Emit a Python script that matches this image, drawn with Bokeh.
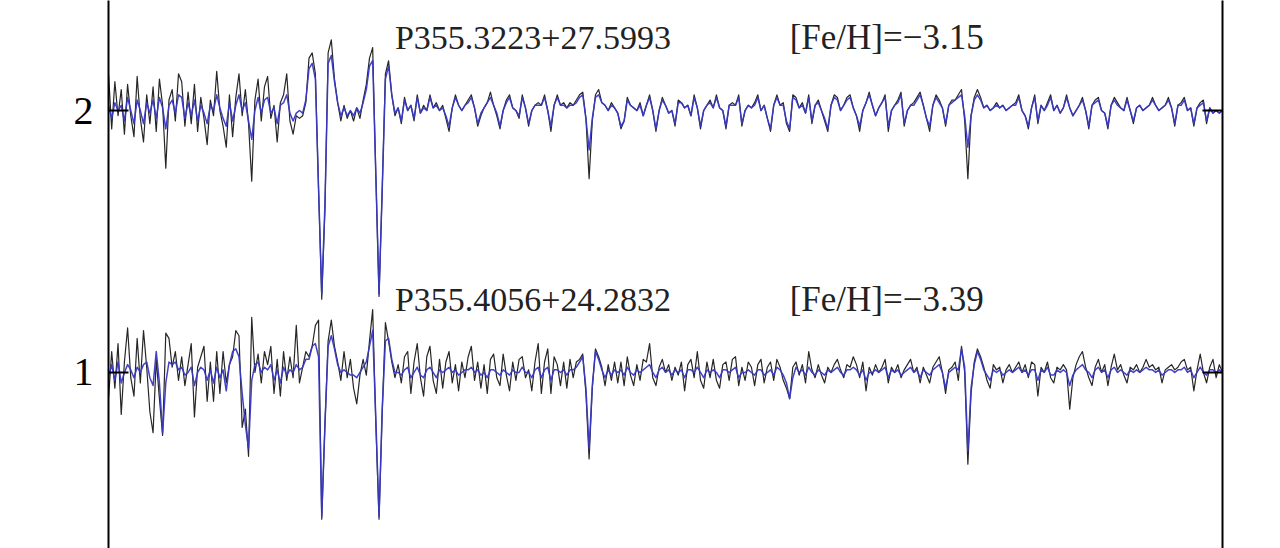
import numpy as np
from bokeh.plotting import figure
from bokeh.models import Range1d, LinearAxis, FixedTicker, Label
from bokeh.embed import file_html
from bokeh.resources import INLINE

# wavelength grid (Angstrom): 3800 .. 4500, step 2
WL_START = 3800.0
WL_STEP = 2.0

# Star 2 (P355.3223+27.5993): normalised flux deviation in percent, observed (black)
obs2_pct = [
    14, -7, 11, -2, 8, -9, 10, -2, -10, 13,
    -3, -12, 6, -5, 9, -8, 12, 2, -22, 4,
    8, -4, 14, 11, -6, 7, -5, 10, -8, 5,
    -3, -13, 4, -2, 15, 0, -6, -14, 6, -10,
    5, 14, -2, 8, -5, -27, 4, 12, -4, 9,
    13, -3, 2, -12, 3, 6, 14, -4, -9, -2,
    -3, -2, 3, 20, 22, 14, -30, -72, -38, 22,
    27, 12, 3, -4, 2, -3, 0, -4, 1, -3,
    4, 10, 20, 24, -25, -71, -30, 14, 19, 6,
    -2, 1, -5, 5, 0, 2, -4, 6, -1, 2,
    0, 6, 1, 3, 0, 2, -3, -8, 1, 6,
    2, 0, 2, 4, 6, 1, -6, -2, 1, 3,
    7, 2, -2, -7, 0, 4, 6, 1, 0, -3,
    6, 1, -6, 0, 2, 3, 2, 6, 0, -8,
    2, 6, 2, 3, 1, 3, 2, 4, 6, 7,
    -3, -26, -4, 6, 8, 3, 2, 0, 3, 1,
    -1, -7, -4, 5, 2, 1, 0, 3, -2, 2,
    6, 0, -8, 0, 5, 2, -1, 0, -6, 4,
    3, 1, 2, -2, 6, 1, -7, 0, 2, 4,
    1, 6, 1, 0, -7, 2, 3, 2, 6, -6,
    0, 2, 1, 3, 6, 0, 2, -3, -8, 2,
    6, 2, 3, -5, -8, 6, 5, 1, 3, -1,
    6, -5, 2, 4, 0, -4, -8, 2, 6, 5,
    0, 2, 5, 6, 1, -2, -8, 0, 3, 7,
    2, -2, 1, 3, 6, -8, 0, 2, 4, 7,
    -6, 0, 2, 3, 5, 7, 2, -3, -8, 2,
    6, 4, 1, -6, 2, 4, 4, 6, 8, -4,
    -26, -2, 5, 8, 5, 1, 2, 0, 1, 3,
    1, 2, 0, 1, 2, 3, 6, 0, -2, -7,
    1, 6, -5, 2, 0, 3, 6, 0, 2, -1,
    1, 6, 1, -2, 0, 2, 5, 0, -7, 2,
    4, 5, 0, -1, -7, 2, 5, 3, 1, 0,
    5, 0, -5, 1, 2, 0, 1, 2, 5, 2,
    0, 1, 2, 5, 1, -6, 2, 3, 5, 0,
    1, -6, 1, 3, 4, -5, 1, -1, 0, -1,
    0,
]

# Star 2 synthetic / model (blue)
mod2_pct = [
    2, -3, 3, 0, 2, -4, 5, 0, -5, 4,
    0, -5, 3, -1, 4, -3, 5, 1, -7, 2,
    4, -1, 6, 5, -3, 3, -2, 4, -4, 2,
    -1, -5, 2, 0, 6, 1, -3, -6, 3, -4,
    2, 6, 0, 3, -4, -11, 0, 5, -1, 4,
    5, -1, 1, -5, 2, 3, 6, -1, -4, -1,
    0, -1, 4, 16, 18, 12, -30, -70, -36, 18,
    21, 11, 3, -2, 1, -2, 0, -2, 1, -1,
    3, 8, 17, 19, -25, -70, -30, 12, 17, 6,
    -1, 1, -4, 4, 0, 2, -3, 5, -1, 1,
    0, 5, 1, 2, 0, 1, -2, -6, 1, 5,
    2, 0, 2, 3, 5, 1, -5, -1, 1, 3,
    5, 2, -1, -6, 0, 3, 5, 1, 0, -2,
    5, 1, -5, 0, 2, 2, 2, 5, 0, -6,
    2, 5, 2, 2, 1, 2, 2, 3, 5, 6,
    -3, -15, -3, 5, 6, 3, 2, 0, 2, 1,
    -1, -6, -4, 4, 2, 1, 0, 2, -2, 2,
    5, 0, -7, 0, 4, 2, -1, 0, -5, 3,
    3, 1, 2, -2, 5, 1, -6, 0, 2, 3,
    1, 5, 1, 0, -6, 2, 2, 2, 5, -5,
    0, 2, 1, 2, 5, 0, 2, -3, -7, 2,
    5, 2, 2, -4, -7, 5, 4, 1, 2, -1,
    5, -4, 2, 3, 0, -3, -7, 2, 5, 4,
    0, 2, 4, 5, 1, -2, -6, 0, 3, 6,
    2, -2, 1, 3, 5, -6, 0, 2, 3, 6,
    -5, 0, 2, 2, 4, 6, 2, -3, -6, 2,
    5, 3, 1, -5, 2, 3, 4, 5, 6, -2,
    -14, -2, 4, 6, 4, 1, 2, 0, 1, 2,
    1, 2, 0, 1, 2, 2, 5, 0, -2, -6,
    1, 5, -4, 2, 0, 2, 5, 0, 2, -1,
    1, 5, 1, -2, 0, 2, 4, 0, -6, 2,
    3, 4, 0, -1, -6, 2, 4, 2, 1, 0,
    4, 0, -4, 1, 2, 0, 1, 2, 4, 2,
    0, 1, 2, 4, 1, -5, 2, 2, 4, 0,
    1, -5, 1, 2, 3, -4, 1, -1, 0, -1,
    0,
]

# Star 1 (P355.4056+24.2832): observed (black)
obs1_pct = [
    -10, 8, -6, 11, -16, 4, 17, -2, -9, 13,
    -4, 16, 2, -15, -23, 5, -10, -24, 15, 13,
    2, 8, -3, 6, -5, 3, 11, -17, 2, 6,
    10, -11, 4, -11, 8, -8, 8, -4, 3, 6,
    16, 14, -21, -14, -32, 21, 0, 7, -4, 8,
    3, 10, -8, 5, -9, 8, -3, 6, -2, 18,
    -4, 2, 8, 6, 10, 18, 20, -56, -20, 12,
    20, 10, 4, -3, 8, -2, 5, -6, -12, -1,
    5, -1, 12, 24, -20, -56, -15, 19, 12, 4,
    -2, 3, -4, 6, 8, -8, 4, 11, -2, -9,
    6, 10, -3, -8, 5, -6, 4, 8, -4, 3,
    -7, 4, -2, 6, 10, -3, 4, -6, 3, -8,
    5, 7, -2, -5, 7, -1, -7, 4, -3, 5,
    6, -2, 1, -7, 4, 11, -8, 4, 9, -8,
    6, 3, -5, 4, -6, 5, -2, 4, 5, 7,
    -8, -33, -6, 9, 6, 2, -5, 3, -3, 4,
    -4, 4, -5, 6, -1, -5, 3, -3, 5, 4,
    11, -2, -5, 2, 5, 0, 3, -3, 2, -1,
    4, -7, 3, 5, -2, 8, -3, -6, 4, -2,
    5, -3, -6, 3, 4, -3, 5, 6, -5, 2,
    -3, 4, 2, -5, 3, 5, -4, 2, 4, -3,
    5, 2, -3, -6, -10, 2, 4, -1, 3, -4,
    8, 1, -2, 3, -1, -4, 2, 0, 3, 5,
    1, -2, 3, 2, 6, 3, -2, 4, -7, 2,
    -1, 3, 0, 2, 5, -4, 2, 0, 3, -2,
    1, 3, 5, 0, 2, -4, 2, -1, -4, 2,
    4, 6, 0, -8, 1, 2, 4, -3, 10, 0,
    -35, -8, 4, 9, 6, 2, -3, -6, 3, 1,
    2, -4, 1, 3, 0, 2, 4, 0, 3, -2,
    4, 3, -9, 2, 0, 4, -2, -4, 2, 1,
    3, 1, -14, -2, 3, 6, 8, 2, -2, -5,
    2, 5, 0, 3, -5, 2, 7, 1, 3, -1,
    -4, 2, 1, 3, 0, 2, 5, 2, 3, 1,
    2, -4, 1, 2, 3, 1, 2, 4, 5, 1,
    2, -7, 1, 7, 0, -4, 2, 5, -2, 3,
    0,
]

# Star 1 model (blue)
mod1_pct = [
    -2, 3, -3, 4, -4, 0, 3, 1, -2, 2,
    0, 3, 4, -2, -5, 8, -4, -23, -4, 4,
    3, 4, 1, 2, -1, 0, 2, -5, 0, 2,
    1, -3, 1, -4, 2, -2, 1, -7, 3, 8,
    9, 6, -8, -20, -29, -3, 3, 4, 0, 2,
    1, 3, -3, 1, -4, 2, -1, 1, 0, 3,
    1, 2, 5, 5, 10, 11, 6, -55, -20, 10,
    14, 9, 3, 0, 1, 0, -1, -1, -2, 0,
    2, 4, 10, 16, -18, -55, -14, 12, 13, 5,
    0, 0, -1, 1, 2, -2, 0, 2, -1, -2,
    1, 2, 0, -2, 1, 0, 1, 2, 0, 1,
    -1, 0, 1, 1, 2, 0, 1, -1, 0, -2,
    1, 1, 0, -1, 1, 0, -1, 1, 0, 0,
    2, 0, 0, -2, 1, 2, -2, 1, 2, -3,
    1, 1, 0, 1, -1, 1, 1, 2, 4, 6,
    -6, -29, -5, 8, 5, 1, -2, 1, -1, 1,
    0, 1, -1, 2, 0, -1, 1, 0, 1, 2,
    3, 0, -2, 1, 2, 0, 1, -1, 1, 0,
    1, -2, 1, 1, 0, 2, 0, -2, 1, 0,
    1, 0, -2, 1, 1, 0, 1, 2, -2, 0,
    0, 1, 0, -1, 1, 1, -1, 0, 1, -1,
    2, 1, -1, -4, -10, -2, 2, 0, 1, -1,
    2, 0, -1, 1, 0, -1, 1, 0, 1, 2,
    0, -1, 1, 1, 2, 1, -1, 1, -3, 0,
    0, 1, 0, 1, 2, -2, 1, 0, 1, -1,
    0, 1, 2, 0, 1, -2, 1, 0, -1, 1,
    2, 3, 0, -6, 0, 1, 2, 1, 9, 2,
    -30, -6, 3, 8, 5, 1, -1, -3, 1, 0,
    1, -1, 0, 1, 0, 1, 2, 0, 1, -1,
    1, 1, -3, 1, 0, 2, -1, -1, 1, 0,
    1, 0, -5, -1, 1, 2, 3, 1, 0, -2,
    1, 2, 0, 1, -2, 1, 2, 0, 1, 0,
    -1, 1, 0, 1, 0, 1, 2, 1, 1, 0,
    1, -1, 0, 1, 1, 0, 1, 1, 2, 0,
    1, -2, 0, 2, 0, -1, 1, 1, 0, 1,
    0,
]

star_names = ["P355.4056+24.2832", "P355.3223+27.5993"]
feh_labels = ["[Fe/H]=\u22123.39", "[Fe/H]=\u22123.15"]
offsets = [1, 2]
ytick_values = [1, 2]

X_MIN, X_MAX = 3800, 4500
Y_MIN, Y_MAX = 0.328, 2.420

p = figure(width=1264, height=548,
           x_range=Range1d(X_MIN, X_MAX), y_range=Range1d(Y_MIN, Y_MAX),
           output_backend="svg", toolbar_location=None,
           x_axis_type=None, y_axis_type=None,
           min_border_left=108, min_border_right=42,
           min_border_top=0, min_border_bottom=0)
p.outline_line_color = None
p.background_fill_color = "white"
p.border_fill_color = "white"


def style_axis(ax, show_labels):
    ax.ticker = FixedTicker(ticks=ytick_values)
    ax.axis_line_width = 2
    ax.axis_line_color = "black"
    ax.major_tick_in = 20
    ax.major_tick_out = 0
    ax.major_tick_line_width = 2
    ax.major_tick_line_color = "black"
    ax.minor_tick_line_color = None
    ax.major_label_text_font = "Liberation Serif"
    ax.major_label_text_font_size = "40px"
    ax.major_label_text_color = "black" if show_labels else None
    ax.major_label_standoff = 15


left_ax = LinearAxis()
style_axis(left_ax, True)
p.add_layout(left_ax, "left")
right_ax = LinearAxis()
style_axis(right_ax, False)
p.add_layout(right_ax, "right")

series = [(obs1_pct, mod1_pct), (obs2_pct, mod2_pct)]
for (obs, mod), off in zip(series, offsets):
    wl_o = WL_START + WL_STEP * np.arange(len(obs))
    wl_m = WL_START + WL_STEP * np.arange(len(mod))
    p.line(wl_o, np.array(obs) / 100.0 + off, line_color="#262626", line_width=1.2,
           line_join="round")
    p.line(wl_m, np.array(mod) / 100.0 + off, line_color="#3838c4", line_width=1.5,
           line_alpha=0.95, line_join="round")

for name, feh, off in zip(star_names, feh_labels, offsets):
    p.add_layout(Label(x=3980, y=off + 0.28, text=name, text_font="Liberation Serif",
                       text_font_size="34px", text_baseline="middle", text_color="#222222"))
    p.add_layout(Label(x=4228, y=off + 0.28, text=feh, text_font="Liberation Serif",
                       text_font_size="35px", text_baseline="middle", text_color="#222222"))

open("out.html", "w").write(file_html(p, INLINE))
